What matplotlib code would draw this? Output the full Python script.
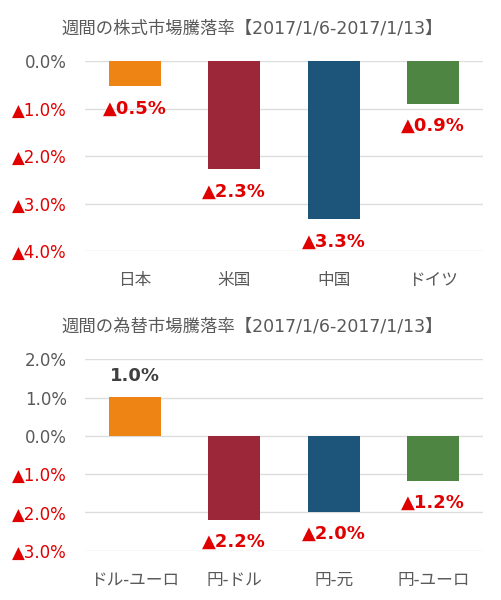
import matplotlib
matplotlib.use("Agg")
import matplotlib.pyplot as plt
from matplotlib.ticker import FuncFormatter

plt.rcParams['font.family'] = ['DejaVu Sans', 'Noto Sans CJK JP']

# Data
stock_categories = ["日本", "米国", "中国", "ドイツ"]
stock_values = [-0.53, -2.28, -3.33, -0.90]
stock_labels = ["▲0.5%", "▲2.3%", "▲3.3%", "▲0.9%"]
stock_title = "週間の株式市場騰落率【2017/1/6-2017/1/13】"

fx_categories = ["ドル-ユーロ", "円-ドル", "円-元", "円-ユーロ"]
fx_values = [1.02, -2.19, -1.98, -1.17]
fx_labels = ["1.0%", "▲2.2%", "▲2.0%", "▲1.2%"]
fx_title = "週間の為替市場騰落率【2017/1/6-2017/1/13】"

bar_colors = ["#EE8413", "#9C2738", "#1D557A", "#4F8543"]
RED = "#E00000"
GRAY = "#595959"

def fmt(v, pos):
    if v < -1e-9:
        return "▲%.1f%%" % abs(v)
    return "%.1f%%" % v

def draw(ax, cats, vals, labels, title, ylim, ticks):
    x = list(range(len(cats)))
    ax.bar(x, vals, width=0.52, color=bar_colors, zorder=3)
    ax.set_xlim(-0.5, len(cats) - 0.5)
    ax.set_ylim(*ylim)
    ax.set_yticks(ticks)
    ax.yaxis.set_major_formatter(FuncFormatter(fmt))
    ax.set_xticks(x)
    ax.set_xticklabels(cats, fontsize=12, color=GRAY)
    ax.tick_params(axis='x', length=0, pad=14.5)
    ax.tick_params(axis='y', length=0, pad=13, labelsize=12)
    for t, v in zip(ax.get_yticklabels(), ticks):
        t.set_color(RED if v < 0 else GRAY)
    ax.grid(axis='y', color="#DDDDDD", linewidth=1, zorder=0)
    for s in ax.spines.values():
        s.set_visible(False)
    for xi, v, lab in zip(x, vals, labels):
        if v < 0:
            ax.annotate(lab, (xi, v), xytext=(0, -16), textcoords='offset points',
                        ha='center', va='center', fontsize=13, fontweight='bold', color=RED)
        else:
            ax.annotate(lab, (xi, v), xytext=(0, 15), textcoords='offset points',
                        ha='center', va='center', fontsize=13, fontweight='bold', color="#404040")
    ax.set_title(title, fontsize=12.5, color=GRAY, pad=20, x=0.42)

fig = plt.figure(figsize=(5.01, 6.0), dpi=100)
ax1 = fig.add_axes([85/501, 1-251/600, 398/501, 190/600])
ax2 = fig.add_axes([85/501, 1-550.7/600, 398/501, 191.4/600])

draw(ax1, stock_categories, stock_values, stock_labels, stock_title, (-4, 0), [0, -1, -2, -3, -4])
draw(ax2, fx_categories, fx_values, fx_labels, fx_title, (-3, 2), [2, 1, 0, -1, -2, -3])

fig.savefig("out.png", dpi=100, facecolor="white")
